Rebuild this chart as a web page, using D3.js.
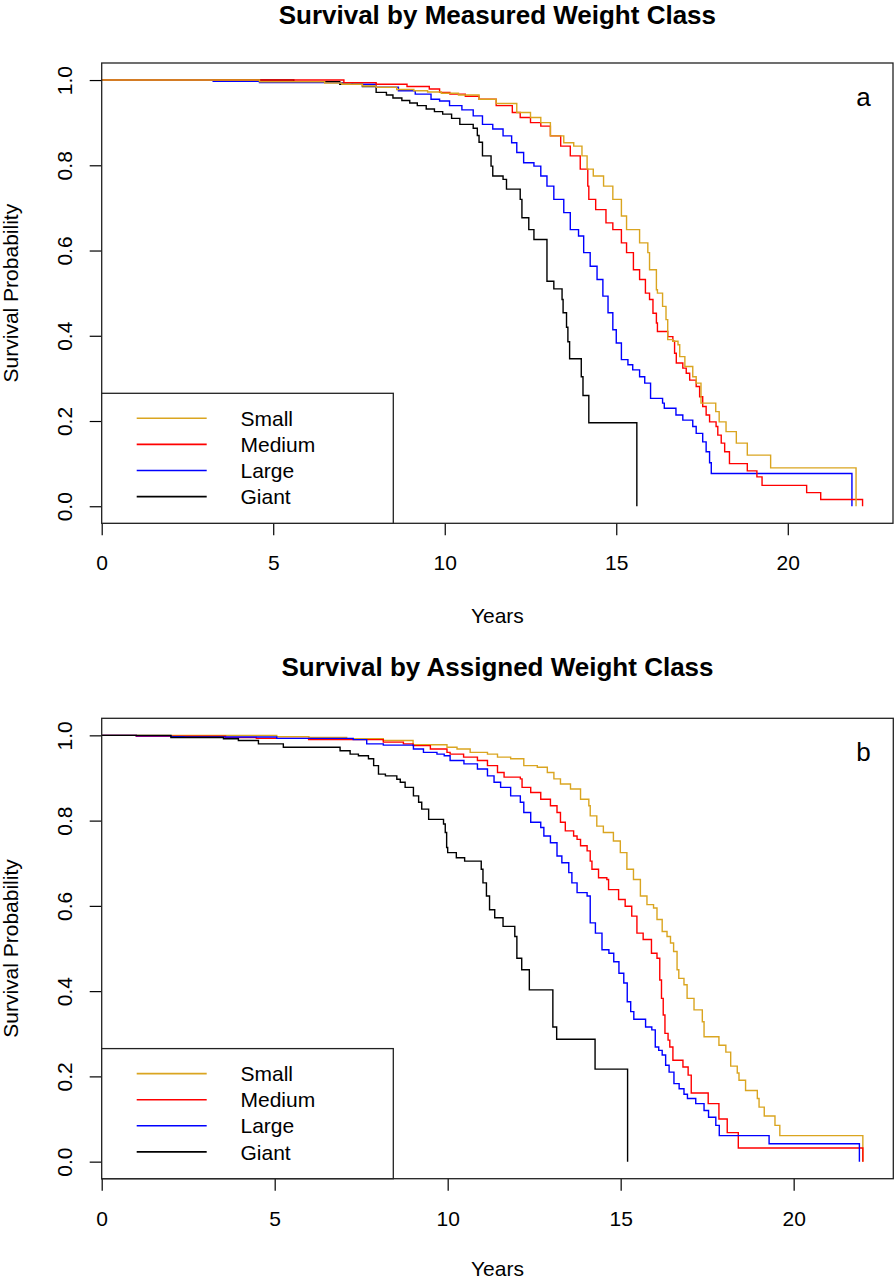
<!DOCTYPE html>
<html><head><meta charset="utf-8">
<script src="https://cdn.jsdelivr.net/npm/d3@7"></script>
<style>
body{margin:0;background:#fff}
svg{display:block}
text{font-family:"Liberation Sans",Arial,Helvetica,sans-serif;fill:#000}
</style>
</head><body>
<svg id="c" width="896" height="1281"></svg>
<script>
// ---------- data ----------
const seriesNames = ["Small", "Medium", "Large", "Giant"];
const seriesColors = ["#DAA520", "#FF0000", "#0000FF", "#000000"];
const xTicks = [0, 5, 10, 15, 20];
const yTicks = [0, 0.2, 0.4, 0.6, 0.8, 1.0];
const yTickLabels = ["0.0", "0.2", "0.4", "0.6", "0.8", "1.0"];
const titles = ["Survival by Measured Weight Class", "Survival by Assigned Weight Class"];
const panelTags = ["a", "b"];
const xLabel = "Years";
const yLabel = "Survival Probability";

// Panel a: measured weight class  [years, survival]
const measSmall = [[0,1],[4.6,0.996],[6.5,0.993],[7.0,0.99],[7.6,0.986],[8.0,0.983],[8.6,0.978],[9.1,0.975],[9.5,0.972],[9.9,0.969],[10.4,0.965],[11.0,0.955],[11.5,0.945],[12.1,0.924],[12.5,0.912],[12.8,0.9],[13.08,0.869],[13.47,0.853],[13.76,0.845],[14.0,0.822],[14.15,0.791],[14.33,0.775],[14.63,0.751],[14.9,0.72],[15.15,0.681],[15.3,0.649],[15.68,0.618],[15.92,0.595],[15.97,0.555],[16.17,0.508],[16.2,0.5],[16.35,0.469],[16.45,0.438],[16.5,0.391],[16.65,0.387],[16.8,0.379],[16.85,0.351],[17.0,0.328],[17.23,0.304],[17.33,0.289],[17.47,0.242],[17.9,0.222],[18.0,0.198],[18.2,0.175],[18.5,0.148],[18.82,0.12],[19.5,0.09],[21.99,0]];
const measMedium = [[0,1],[7.06,0.994],[8.0,0.99],[8.9,0.985],[9.55,0.979],[9.85,0.971],[10.15,0.967],[10.6,0.962],[11.0,0.955],[11.5,0.94],[11.97,0.924],[12.2,0.912],[12.5,0.9],[12.8,0.892],[13.08,0.869],[13.38,0.845],[13.66,0.822],[13.95,0.791],[14.17,0.751],[14.2,0.72],[14.4,0.696],[14.7,0.665],[14.9,0.649],[15.15,0.618],[15.3,0.595],[15.5,0.555],[15.68,0.532],[15.85,0.5],[15.97,0.485],[16.07,0.453],[16.17,0.43],[16.2,0.41],[16.5,0.398],[16.65,0.387],[16.7,0.359],[16.75,0.336],[16.94,0.324],[17.04,0.312],[17.14,0.296],[17.33,0.281],[17.43,0.257],[17.52,0.234],[17.62,0.214],[17.72,0.198],[17.91,0.187],[17.96,0.167],[18.06,0.148],[18.16,0.128],[18.3,0.1],[18.82,0.083],[19.1,0.069],[19.25,0.049],[20.55,0.032],[20.96,0.016],[22.18,0]];
const measLarge = [[0,1],[3.25,0.997],[4.6,0.994],[7.3,0.99],[8.0,0.983],[8.65,0.975],[9.14,0.967],[9.6,0.955],[9.85,0.951],[10.14,0.94],[10.5,0.93],[10.83,0.916],[11.1,0.896],[11.4,0.885],[11.7,0.869],[11.95,0.853],[12.1,0.83],[12.3,0.806],[12.6,0.798],[12.8,0.775],[12.98,0.751],[13.18,0.72],[13.47,0.689],[13.66,0.649],[13.9,0.634],[14.05,0.595],[14.24,0.563],[14.44,0.532],[14.61,0.493],[14.76,0.454],[14.9,0.414],[15.0,0.383],[15.15,0.344],[15.34,0.332],[15.48,0.32],[15.68,0.304],[15.83,0.289],[16.0,0.253],[16.35,0.242],[16.4,0.23],[16.74,0.214],[16.94,0.202],[17.23,0.187],[17.33,0.171],[17.52,0.151],[17.62,0.128],[17.72,0.102],[17.77,0.077],[21.87,0]];
const measGiant = [[0,1],[5.6,0.996],[6.94,0.99],[7.6,0.985],[8.0,0.971],[8.3,0.965],[8.49,0.958],[8.75,0.952],[8.98,0.946],[9.2,0.94],[9.46,0.932],[9.7,0.926],[9.94,0.92],[10.2,0.91],[10.44,0.896],[10.83,0.887],[10.95,0.87],[11.0,0.854],[11.1,0.822],[11.35,0.798],[11.4,0.775],[11.7,0.767],[11.8,0.744],[12.2,0.72],[12.25,0.677],[12.45,0.649],[12.6,0.626],[12.98,0.528],[13.18,0.51],[13.42,0.485],[13.45,0.454],[13.55,0.42],[13.59,0.386],[13.64,0.346],[13.98,0.304],[14.03,0.26],[14.2,0.196],[15.6,0]];

// Panel b: assigned weight class
const assnSmall = [[0,1],[5.06,0.997],[5.99,0.995],[7.08,0.992],[8.14,0.988],[9.0,0.978],[9.98,0.972],[10.27,0.968],[10.65,0.96],[11.15,0.956],[11.44,0.949],[11.82,0.945],[12.2,0.929],[12.59,0.925],[12.88,0.913],[13.07,0.898],[13.26,0.886],[13.55,0.874],[13.84,0.85],[14.08,0.835],[14.12,0.811],[14.31,0.787],[14.5,0.772],[14.79,0.752],[14.99,0.725],[15.18,0.686],[15.37,0.662],[15.57,0.623],[15.76,0.603],[15.95,0.595],[16.05,0.568],[16.2,0.54],[16.34,0.528],[16.44,0.513],[16.53,0.493],[16.63,0.45],[16.68,0.43],[16.83,0.415],[16.92,0.383],[17.12,0.356],[17.36,0.328],[17.41,0.293],[17.84,0.273],[18.04,0.257],[18.18,0.224],[18.37,0.208],[18.42,0.191],[18.61,0.167],[18.95,0.148],[19.0,0.128],[19.15,0.107],[19.46,0.085],[19.6,0.061],[22.0,0]];
const assnMedium = [[0,1],[1.0,0.998],[3.58,0.995],[4.47,0.993],[5.98,0.99],[8.14,0.984],[8.72,0.98],[9.0,0.976],[9.5,0.968],[9.98,0.96],[10.07,0.956],[10.46,0.949],[10.86,0.941],[11.15,0.929],[11.44,0.913],[11.63,0.902],[12.1,0.898],[12.15,0.878],[12.4,0.866],[12.69,0.85],[12.97,0.835],[13.16,0.819],[13.26,0.796],[13.4,0.776],[13.64,0.764],[13.74,0.756],[13.84,0.741],[14.03,0.729],[14.12,0.705],[14.17,0.686],[14.36,0.666],[14.6,0.662],[14.65,0.638],[14.94,0.615],[15.13,0.599],[15.32,0.576],[15.47,0.536],[15.65,0.521],[15.89,0.489],[16.05,0.477],[16.13,0.426],[16.18,0.383],[16.23,0.344],[16.28,0.301],[16.37,0.285],[16.42,0.269],[16.51,0.238],[16.8,0.222],[16.95,0.203],[17.04,0.161],[17.53,0.136],[17.84,0.1],[18.08,0.068],[18.4,0.032],[22.0,0]];
const assnLarge = [[0,1],[1.0,0.999],[2.0,0.997],[2.37,0.996],[5.06,0.993],[7.27,0.99],[7.66,0.98],[8.14,0.977],[9.01,0.968],[9.3,0.96],[9.69,0.956],[9.9,0.952],[10.07,0.941],[10.47,0.933],[10.86,0.921],[11.15,0.905],[11.34,0.89],[11.53,0.878],[11.82,0.858],[12.1,0.843],[12.2,0.819],[12.4,0.796],[12.69,0.784],[12.78,0.764],[12.97,0.748],[13.16,0.717],[13.3,0.701],[13.5,0.678],[13.59,0.654],[13.74,0.631],[14.03,0.623],[14.12,0.56],[14.27,0.536],[14.46,0.497],[14.66,0.489],[14.8,0.469],[14.95,0.442],[15.09,0.419],[15.19,0.375],[15.29,0.352],[15.38,0.334],[15.72,0.316],[15.9,0.309],[16.0,0.269],[16.1,0.261],[16.2,0.25],[16.3,0.226],[16.4,0.21],[16.54,0.183],[16.69,0.171],[16.83,0.158],[16.93,0.148],[17.17,0.136],[17.41,0.12],[17.54,0.104],[17.75,0.085],[17.85,0.061],[19.29,0.042],[21.9,0]];
const assnGiant = [[0,1],[2.0,0.995],[3.52,0.992],[3.95,0.988],[4.53,0.98],[5.25,0.972],[6.89,0.964],[7.18,0.956],[7.42,0.952],[7.71,0.945],[7.86,0.929],[8.0,0.909],[8.2,0.905],[8.53,0.897],[8.63,0.89],[8.77,0.878],[9.01,0.858],[9.16,0.843],[9.25,0.827],[9.45,0.803],[9.88,0.792],[9.93,0.772],[9.97,0.737],[10.0,0.725],[10.25,0.713],[10.49,0.705],[10.97,0.686],[11.02,0.654],[11.12,0.623],[11.21,0.591],[11.36,0.572],[11.6,0.552],[11.94,0.528],[12.0,0.477],[12.14,0.45],[12.36,0.403],[13.04,0.316],[13.15,0.287],[14.26,0.217],[15.2,0]];

// ---------- drawing ----------
const svg = d3.select("#c");
const FONT = 21;

function drawPanel(cfg) {
  const {left, right, top, bottom, curves, title, tag, drawOrder, titleY, xLabY} = cfg;
  const tMax = d3.max(curves, c => d3.max(c, d => d[0]));
  const x = d3.scaleLinear().domain([0, tMax * 1.04]).range([left, right]);
  const y = d3.scaleLinear().domain([-0.04, 1.04]).range([bottom, top]);
  const g = svg.append("g");

  // curves
  const line = d3.line().x(d => x(d[0])).y(d => y(d[1])).curve(d3.curveStepAfter);
  const cg = g.append("g");
  drawOrder.forEach(i => {
    cg.append("path").datum(curves[i]).attr("d", line)
      .attr("fill", "none").attr("stroke", seriesColors[i]).attr("stroke-width", 1.4);
  });

  // x axis
  const xa = g.append("g").attr("transform", `translate(0,${bottom})`)
    .call(d3.axisBottom(x).tickValues(xTicks).tickSize(12).tickSizeOuter(0).tickFormat(d3.format("d")));
  xa.select(".domain").remove();
  xa.selectAll(".tick line").attr("stroke", "#000").attr("stroke-width", 1.2);
  xa.selectAll(".tick text").attr("y", 47).attr("dy", 0).attr("font-size", FONT)
    .attr("font-family", "Liberation Sans, Arial, sans-serif").attr("fill", "#000");

  // y axis
  const ya = g.append("g").attr("transform", `translate(${left},0)`)
    .call(d3.axisLeft(y).tickValues(yTicks).tickSize(12).tickSizeOuter(0).tickFormat((d, i) => yTickLabels[i]));
  ya.select(".domain").remove();
  ya.selectAll(".tick line").attr("stroke", "#000").attr("stroke-width", 1.2);
  ya.selectAll(".tick text").attr("x", 0).attr("y", 0).attr("dy", 0)
    .attr("transform", "translate(-30,0) rotate(-90)")
    .attr("text-anchor", "middle").attr("font-size", FONT)
    .attr("font-family", "Liberation Sans, Arial, sans-serif").attr("fill", "#000");

  // plot box
  g.append("rect").attr("x", left).attr("y", top).attr("width", right - left).attr("height", bottom - top)
    .attr("fill", "none").attr("stroke", "#222").attr("stroke-width", 1.3);

  // legend
  const legTop = top + 330.3, legRight = 393.3;
  g.append("rect").attr("x", left).attr("y", legTop).attr("width", legRight - left).attr("height", bottom - legTop)
    .attr("fill", "#fff").attr("stroke", "#222").attr("stroke-width", 1.3);
  seriesNames.forEach((name, i) => {
    const ly = legTop + 25 + i * 26.1;
    g.append("line").attr("x1", 136.7).attr("x2", 206.7).attr("y1", ly).attr("y2", ly)
      .attr("stroke", seriesColors[i]).attr("stroke-width", 1.6);
    g.append("text").attr("x", 240.5).attr("y", ly + 7.6).attr("font-size", FONT).text(name);
  });

  // title
  g.append("text").attr("x", (left + right) / 2).attr("y", titleY).attr("text-anchor", "middle")
    .attr("font-size", 26).attr("font-weight", "bold").text(title);
  // x label
  g.append("text").attr("x", (left + right) / 2).attr("y", xLabY).attr("text-anchor", "middle")
    .attr("font-size", FONT).text(xLabel);
  // y label
  g.append("text").attr("transform", `translate(18,${(top + bottom) / 2}) rotate(-90)`)
    .attr("text-anchor", "middle").attr("font-size", FONT).text(yLabel);
  // panel tag
  g.append("text").attr("x", 863.5).attr("y", top + 42.5).attr("text-anchor", "middle")
    .attr("font-size", 26).text(tag);
}

drawPanel({left: 101.7, right: 893, top: 63, bottom: 523.3, titleY: 23.6, xLabY: 623.3,
  curves: [measSmall, measMedium, measLarge, measGiant], title: titles[0], tag: panelTags[0],
  drawOrder: [3, 2, 1, 0]});
drawPanel({left: 101.7, right: 893.3, top: 718.3, bottom: 1178.7, titleY: 675.5, xLabY: 1276,
  curves: [assnSmall, assnMedium, assnLarge, assnGiant], title: titles[1], tag: panelTags[1],
  drawOrder: [0, 1, 2, 3]});
</script>
</body></html>
